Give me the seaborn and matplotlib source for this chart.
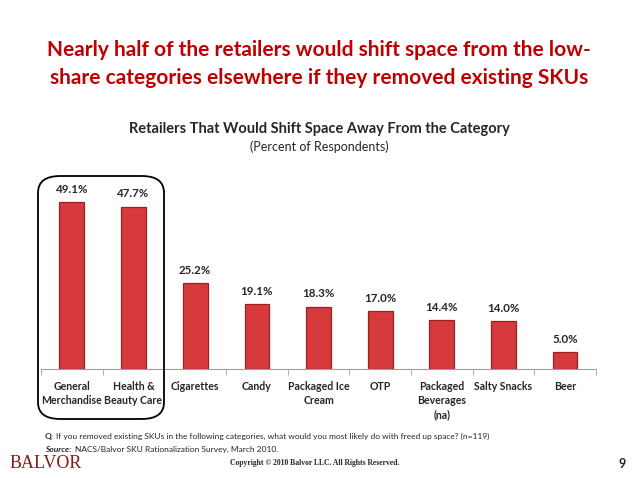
import matplotlib
matplotlib.use('Agg')
import matplotlib.pyplot as plt
from matplotlib.patches import FancyBboxPatch
import pandas as pd
import seaborn as sns

categories = ['General\nMerchandise', 'Health &\nBeauty Care', 'Cigarettes', 'Candy',
              'Packaged Ice\nCream', 'OTP', 'Packaged\nBeverages\n(na)', 'Salty Snacks', 'Beer']
values = [49.1, 47.7, 25.2, 19.1, 18.3, 17.0, 14.4, 14.0, 5.0]

RED = '#C00000'
FONT = ['Lato', 'DejaVu Sans']


def main():
    sns.set_style('white')
    plt.rcParams['font.family'] = FONT
    df = pd.DataFrame({'category': categories, 'value': values})

    fig = plt.figure(figsize=(6.38, 4.78), dpi=100)
    ax = fig.add_axes([41 / 638, 109 / 478, 555 / 638, 187 / 478])
    sns.barplot(data=df, x='category', y='value', color='#D63A3D', width=0.4,
                edgecolor='#9A2024', linewidth=0.9, saturation=1, ax=ax)
    ax.set_ylim(0, 55)
    ax.set_xlim(-0.5, len(categories) - 0.5)
    for p, v in zip(ax.patches, values):
        ax.text(p.get_x() + p.get_width() / 2, v + 2.2, f'{v:.1f}%', ha='center',
                va='bottom', fontsize=8.3, fontweight='bold')
    ax.set_xlabel('')
    ax.set_ylabel('')
    ax.set_yticks([])
    for s in ['top', 'right', 'left']:
        ax.spines[s].set_visible(False)
    ax.spines['bottom'].set_color('#A0A0A0')
    ax.set_xticks([i + 0.5 for i in range(-1, len(categories))], minor=True)
    ax.tick_params(axis='x', which='minor', length=4, color='#A0A0A0', bottom=True)
    ax.tick_params(axis='x', which='major', length=0, pad=9)
    ax.set_xticks(range(len(categories)))
    ax.set_xticklabels(categories, fontsize=7.6, fontweight='bold', linespacing=1.3,
                       va='top')

    fig.text(0.5, 1 - 50 / 478, 'Nearly half of the retailers would shift space from the low-',
             ha='center', va='center', color=RED, fontsize=15, fontweight='bold')
    fig.text(0.5, 1 - 78 / 478, 'share categories elsewhere if they removed existing SKUs',
             ha='center', va='center', color=RED, fontsize=15, fontweight='bold')
    fig.text(0.5, 1 - 129 / 478, 'Retailers That Would Shift Space Away From the Category',
             ha='center', va='center', fontsize=10.5, fontweight='bold')
    fig.text(0.5, 1 - 147 / 478, '(Percent of Respondents)', ha='center', va='center',
             fontsize=9)

    box = FancyBboxPatch((38 / 638, 1 - 419 / 478), 126 / 638, 243 / 478,
                         boxstyle='round,pad=0,rounding_size=0.035',
                         transform=fig.transFigure, fill=False,
                         edgecolor='black', linewidth=1.3)
    fig.patches.append(box)

    fig.text(45 / 638, 1 - 436 / 478, 'Q:', fontsize=6, fontweight='bold', va='center')
    fig.text(56 / 638, 1 - 436 / 478,
             'If you removed existing SKUs in the following categories, what would you most likely do with freed up space? (n=119)',
             fontsize=6, va='center')
    fig.text(45 / 638, 1 - 449 / 478, 'Source:', fontsize=6, fontweight='bold',
             style='italic', va='center')
    fig.text(75 / 638, 1 - 449 / 478, 'NACS/Balvor SKU Rationalization Survey, March 2010.',
             fontsize=6, va='center')
    fig.text(10 / 638, 1 - 463 / 478, 'BALVOR', fontsize=13, color='#8B1A1A',
             family=['Liberation Serif', 'DejaVu Serif'], va='center')
    fig.text(315 / 638, 1 - 463 / 478, 'Copyright \u00a9 2010 Balvor LLC. All Rights Reserved.',
             fontsize=5.5, family=['Liberation Serif', 'DejaVu Serif'], fontweight='bold',
             ha='center', va='center')
    fig.text(622 / 638, 1 - 464 / 478, '9', fontsize=9, fontweight='bold',
             ha='center', va='center')

    fig.savefig('out.png', dpi=100)


if __name__ == '__main__':
    main()
